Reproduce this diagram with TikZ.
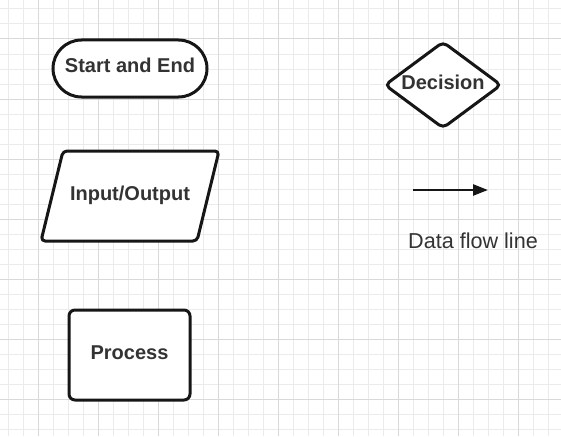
\documentclass[tikz,border=0pt]{standalone}
\usepackage{fontspec}
\setmainfont{Liberation Sans}
\usetikzlibrary{shapes.geometric,arrows.meta}
\definecolor{gridminor}{HTML}{EBEBEB}
\definecolor{gridmajor}{HTML}{D9D9D9}
\definecolor{txt}{HTML}{333333}
\definecolor{edge}{HTML}{161616}
\begin{document}
\begin{tikzpicture}[x=1pt,y=-1pt,
  shapebox/.style={draw=edge, line width=3pt, fill=white, text=txt,
    font=\bfseries\fontsize{20}{24}\selectfont,
    text height=14.3pt, text depth=6pt, inner sep=0pt},
  shapeline/.style={draw=edge, line width=3pt, fill=white, line join=round},
  boldtext/.style={text=txt, font=\bfseries\fontsize{20}{24}\selectfont,
    text height=14.3pt, text depth=6pt, inner sep=0pt},
  plaintext/.style={text=txt, font=\fontsize{21.6}{26}\selectfont,
    text height=15.5pt, text depth=0pt, inner sep=0pt},
  flowline/.style={draw=edge, line width=2.5pt, -{Triangle[length=15pt,width=11pt]}},
  minorgrid/.style={draw=gridminor, line width=1pt},
  majorgrid/.style={draw=gridmajor, line width=1pt}]
\fill[white] (0,0) rectangle (561,436);
\useasboundingbox (0,0) rectangle (561,436);
% grid
\foreach \i in {0,...,36} \draw[minorgrid] ({8.3+15*\i},0) -- ({8.3+15*\i},436);
\foreach \j in {0,...,28} \draw[minorgrid] (0,{9+15*\j}) -- (561,{9+15*\j});
\foreach \i in {0,...,8} \draw[majorgrid] ({38.3+60*\i},0) -- ({38.3+60*\i},436);
\foreach \j in {0,...,6} \draw[majorgrid] (0,{39+60*\j}) -- (561,{39+60*\j});
% start / end
\node[shapebox, rounded corners=28.5pt, minimum width=154pt, minimum height=57pt] (start) at (130,68.5) {Start and End};
% decision
\node[shapebox, diamond, shape aspect=1.35, minimum width=117pt, minimum height=87pt, rounded corners=5pt] (decision) at (443,85) {Decision};
% input / output parallelogram
\coordinate (iotl) at (63,151);
\coordinate (iotr) at (219,151);
\coordinate (iobr) at (197,241);
\coordinate (iobl) at (41,241);
\draw[shapeline, rounded corners=4pt] (iotl) -- (iotr) -- (iobr) -- (iobl) -- cycle;
\node[boldtext] (io) at (130,196) {Input/Output};
% process
\node[shapebox, rounded corners=6pt, minimum width=121pt, minimum height=90pt] (process) at (129.5,355) {Process};
% data flow line
\coordinate (flowstart) at (413,190);
\coordinate (flowend) at (488,190);
\draw[flowline] (flowstart) -- (flowend);
\node[plaintext] (flowlabel) at (473,240.5) {Data flow line};
\end{tikzpicture}
\end{document}
